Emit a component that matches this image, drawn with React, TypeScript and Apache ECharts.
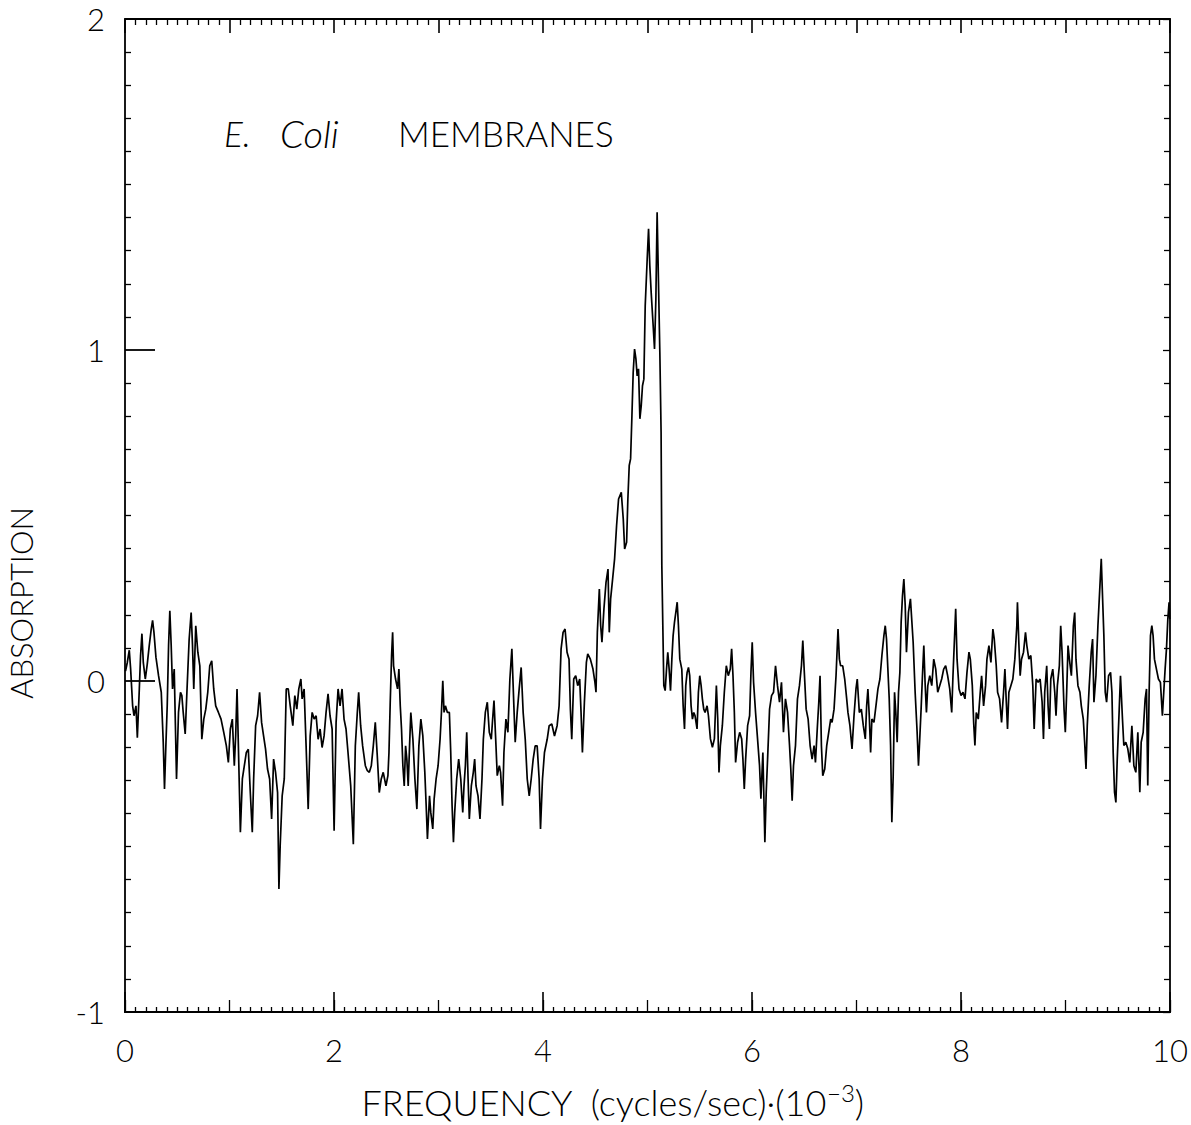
import React, { useEffect, useRef } from 'react';
import * as echarts from 'echarts';

// Frequency (cycles/sec · 10^-3) and absorption readings, in segments
const freqA = [0.005,0.022,0.041,0.054,0.073,0.086,0.105,0.118,0.137,0.149,
0.162,0.175,0.194,0.213,0.232,0.251,0.264,0.277,0.296,0.321,
0.347,0.366,0.378,0.391,0.404,0.417,0.429,0.442,0.455,0.471,
0.493,0.512,0.531,0.544,0.557,0.576,0.595,0.614,0.633,0.646,
0.658,0.677,0.697,0.716,0.735,0.754,0.773,0.792,0.811,0.830,
0.849,0.868,0.894,0.919,0.945,0.970,0.989,1.008,1.027,1.046,
1.059,1.072,1.085,1.104,1.123,1.142,1.161,1.180,1.199,1.218,
1.231,1.250,1.269,1.288,1.307,1.326,1.345,1.364,1.384,1.403,
1.422,1.441,1.460,1.473,1.485,1.504,1.524,1.543,1.562,1.581,
1.606,1.625,1.644,1.663,1.683,1.695,1.714,1.733,1.753,1.772,
1.791,1.810,1.829,1.848,1.867,1.886,1.905,1.924,1.943,1.962,
1.982,2.001,2.020,2.039,2.058,2.077,2.096,2.115,2.134,2.160,
2.185,2.204,2.223,2.236,2.255,2.274,2.300,2.319,2.338,2.357,
2.376,2.395,2.414,2.433,2.452,2.471,2.497,2.516];
const absA = [0.03,0.056,0.093,0.036,-0.075,-0.105,-0.075,-0.171,-0.024,0.077,
0.143,0.056,0.006,0.051,0.107,0.157,0.183,0.147,0.072,0.016,
-0.034,-0.186,-0.326,-0.196,-0.075,0.107,0.212,0.107,-0.024,0.036,
-0.296,-0.095,-0.034,-0.044,-0.095,-0.16,-0.014,0.127,0.207,0.107,
-0.024,0.167,0.087,0.046,-0.176,-0.115,-0.085,-0.034,0.046,0.061,
-0.024,-0.075,-0.095,-0.115,-0.155,-0.196,-0.246,-0.145,-0.115,-0.256,
-0.166,-0.024,-0.196,-0.457,-0.296,-0.256,-0.216,-0.206,-0.337,-0.457,
-0.296,-0.135,-0.105,-0.034,-0.125,-0.166,-0.206,-0.266,-0.296,-0.417,
-0.236,-0.276,-0.337,-0.628,-0.497,-0.347,-0.296,-0.024,-0.024,-0.075,
-0.135,-0.044,-0.085,-0.024,0.006,-0.054,-0.024,-0.196,-0.387,-0.166,
-0.095,-0.115,-0.105,-0.176,-0.145,-0.201,-0.166,-0.095,-0.039,-0.105,
-0.145,-0.452,-0.125,-0.024,-0.075,-0.024,-0.115,-0.145,-0.216,-0.317,
-0.493,-0.196,-0.095,-0.034,-0.135,-0.196,-0.256,-0.271,-0.276,-0.256,
-0.196,-0.125,-0.226,-0.337,-0.296,-0.276,-0.317,-0.286];

const freqB = [2.526,2.538,2.551,2.561,2.570,2.589,2.608,2.621,2.634,2.646,
2.659,2.672,2.685,2.697,2.710,2.723,2.735,2.755,2.774,2.793,
2.812,2.831,2.850,2.869,2.882,2.894,2.914,2.926,2.945,2.958,
2.977,2.996,3.015,3.028,3.041,3.053,3.066,3.085,3.104,3.117,
3.130,3.143,3.155,3.174,3.193,3.213,3.232,3.244,3.257,3.270,
3.283,3.295,3.314,3.333,3.346,3.359,3.378,3.397,3.416,3.429,
3.448,3.467,3.486,3.505,3.518,3.531,3.550,3.562,3.582,3.594,
3.613,3.626,3.645,3.664,3.683,3.702,3.721,3.734,3.753,3.772,
3.791,3.810,3.830,3.849,3.868,3.887,3.906,3.925,3.944,3.963,
3.976,3.995,4.014,4.040,4.059,4.084,4.110,4.135,4.154,4.173,
4.192,4.211,4.230,4.249,4.262,4.275,4.294,4.313,4.332,4.351,
4.364,4.377,4.396,4.415,4.428,4.453,4.478,4.497];
const absB = [-0.216,-0.064,0.077,0.147,0.046,0.006,-0.024,0.036,-0.075,-0.145,
-0.256,-0.317,-0.196,-0.236,-0.317,-0.196,-0.095,-0.176,-0.296,-0.387,
-0.196,-0.115,-0.166,-0.276,-0.377,-0.477,-0.347,-0.397,-0.447,-0.357,
-0.296,-0.256,-0.176,-0.095,0.001,-0.095,-0.075,-0.095,-0.095,-0.216,
-0.377,-0.487,-0.397,-0.296,-0.236,-0.296,-0.397,-0.317,-0.256,-0.155,
-0.296,-0.417,-0.317,-0.276,-0.236,-0.317,-0.347,-0.417,-0.296,-0.176,
-0.095,-0.064,-0.155,-0.176,-0.115,-0.059,-0.196,-0.286,-0.256,-0.276,
-0.377,-0.216,-0.115,-0.155,0.006,0.097,-0.075,-0.185,-0.095,-0.024,
0.041,-0.095,-0.176,-0.296,-0.347,-0.296,-0.236,-0.196,-0.196,-0.296,
-0.447,-0.296,-0.216,-0.176,-0.135,-0.13,-0.166,-0.135,-0.075,0.097,
0.147,0.157,0.087,0.066,-0.085,-0.176,0.006,0.016,-0.014,0.006,
-0.095,-0.216,-0.064,0.056,0.082,0.066,0.036,-0.004];

const freqC = [4.507,4.520,4.539,4.552,4.564,4.583,4.603,4.622,4.634,4.647,
4.666,4.685,4.704,4.723,4.749,4.768,4.781,4.800,4.812,4.825,
4.838,4.851,4.863,4.876,4.889,4.901,4.914,4.927,4.940,4.952,
4.965,4.978,4.997,5.010,5.022,5.035,5.054,5.067,5.080,5.092,
5.105,5.118,5.130,5.137];
const absC = [-0.034,0.147,0.278,0.167,0.117,0.218,0.298,0.338,0.147,0.248,
0.308,0.369,0.469,0.55,0.57,0.489,0.399,0.419,0.55,0.651,
0.671,0.802,0.933,1.003,0.973,0.922,0.943,0.792,0.832,0.892,
0.912,1.134,1.275,1.366,1.255,1.174,1.074,1.003,1.154,1.416,
1.204,0.993,0.751,0.348];

const freqD = [5.156,5.169,5.182,5.194,5.207,5.220,5.233,5.245,5.258,5.271,
5.284,5.296,5.309,5.328,5.341,5.354,5.366,5.379,5.392,5.404,
5.417,5.430,5.443,5.455,5.474,5.487,5.500,5.513,5.525,5.538,
5.551,5.570,5.583,5.602,5.621,5.640,5.659,5.672,5.684,5.697,
5.716,5.735,5.754,5.773,5.792,5.805,5.818,5.831,5.843,5.862,
5.882,5.901,5.913,5.926,5.939,5.958,5.977,5.990,6.002,6.015,
6.034,6.053,6.072,6.085,6.104,6.123,6.136,6.149,6.168,6.187,
6.206,6.225,6.244,6.263,6.282,6.301,6.320,6.340,6.359,6.371,
6.384,6.397,6.416,6.435,6.454,6.473,6.486,6.499,6.518,6.537,
6.556,6.575,6.594,6.607,6.626,6.639,6.651,6.664,6.677,6.696,
6.715,6.734,6.753,6.766,6.785,6.804,6.823,6.836,6.848,6.868,
6.887,6.906,6.918,6.937,6.957,6.976,6.995,7.007,7.027,7.046,
7.065,7.084,7.097,7.109,7.122,7.135,7.147,7.167,7.186,7.205,
7.224,7.243,7.262,7.275,7.287,7.300,7.313,7.326,7.338,7.351,
7.364,7.376,7.389,7.402,7.415,7.427,7.440,7.453,7.466,7.478,
7.497,7.516];
const absD = [-0.014,-0.029,0.036,0.087,0.036,-0.029,0.066,0.137,0.177,0.207,
0.238,0.167,0.066,0.036,-0.075,-0.145,-0.014,0.026,0.041,0.016,
-0.075,-0.115,-0.095,-0.105,-0.145,-0.034,0.016,-0.014,-0.054,-0.085,
-0.095,-0.075,-0.105,-0.175,-0.2,-0.175,-0.014,-0.115,-0.276,-0.195,
-0.135,-0.034,0.046,0.016,0.036,0.097,0.016,-0.095,-0.246,-0.185,
-0.155,-0.175,-0.236,-0.326,-0.236,-0.135,-0.105,0.026,0.117,-0.004,
-0.095,-0.175,-0.256,-0.356,-0.216,-0.487,-0.336,-0.236,-0.085,-0.044,
-0.034,0.046,-0.014,-0.064,-0.004,-0.155,-0.054,-0.095,-0.195,-0.266,
-0.362,-0.256,-0.195,-0.054,-0.014,0.046,0.122,0.036,-0.085,-0.115,
-0.195,-0.236,-0.195,-0.246,-0.135,-0.064,0.016,-0.195,-0.286,-0.266,
-0.195,-0.155,-0.115,-0.125,-0.085,0.016,0.157,0.066,0.046,0.046,
0.006,-0.054,-0.095,-0.135,-0.205,-0.105,-0.024,0.006,-0.095,-0.085,
-0.135,-0.175,-0.075,-0.024,-0.105,-0.216,-0.115,-0.125,-0.075,-0.024,
0.006,0.077,0.137,0.167,0.127,0.036,-0.054,-0.195,-0.427,-0.286,
-0.034,-0.095,-0.185,-0.034,0.026,0.177,0.258,0.308,0.228,0.087,
0.207,0.248];

const freqE = [7.542,7.561,7.580,7.593,7.605,7.618,7.631,7.644,7.656,7.669,
7.682,7.701,7.720,7.739,7.758,7.777,7.796,7.815,7.834,7.853,
7.872,7.892,7.911,7.923,7.936,7.949,7.962,7.981,8.000,8.019,
8.038,8.057,8.076,8.089,8.108,8.121,8.133,8.146,8.165,8.184,
8.197,8.216,8.235,8.248,8.267,8.286,8.305,8.318,8.337,8.350,
8.369,8.388,8.407,8.420,8.432,8.445,8.458,8.477,8.496,8.515,
8.534,8.540,8.553,8.566,8.579,8.598,8.617,8.630,8.649,8.668,
8.687,8.700,8.719,8.738,8.757,8.776,8.789,8.801,8.820,8.833,
8.846,8.859,8.878,8.897,8.909,8.922,8.941,8.954,8.967,8.986,
8.998,9.011,9.024,9.037,9.056,9.075,9.088,9.100,9.119,9.138,
9.151,9.170,9.183,9.196,9.208,9.227,9.246,9.259,9.272,9.291,
9.310,9.323,9.342,9.355,9.367,9.380,9.393,9.412,9.431,9.444,
9.456,9.469,9.482,9.495,9.514,9.526,9.545,9.558,9.577,9.596,
9.615,9.635,9.654,9.673,9.692,9.711,9.724,9.743,9.762,9.775,
9.787,9.800,9.813,9.826,9.838,9.851,9.870,9.889,9.908,9.927,
9.940,9.953,9.966,9.979,9.991,9.998];
const absE = [0.117,-0.034,-0.155,-0.256,-0.175,-0.085,0.016,0.107,-0.004,-0.095,
-0.014,0.016,-0.014,0.066,0.036,-0.034,-0.014,0.006,0.036,0.046,
0.016,-0.024,-0.095,0.016,0.117,0.218,0.066,-0.024,-0.044,-0.034,
-0.054,0.026,0.087,0.066,-0.014,-0.125,-0.195,-0.095,-0.115,-0.034,
0.016,-0.075,-0.014,0.066,0.107,0.056,0.157,0.127,0.046,-0.034,
-0.054,-0.125,-0.034,0.036,-0.054,-0.145,-0.034,-0.014,0.006,0.066,
0.167,0.238,0.117,0.016,0.066,0.087,0.147,0.107,0.066,0.077,
-0.014,-0.145,0.006,-0.004,0.006,-0.064,-0.175,-0.034,0.046,-0.075,
-0.145,0.006,0.036,-0.034,-0.105,-0.014,0.046,0.167,0.087,-0.085,
-0.155,-0.034,0.107,0.066,0.016,0.167,0.207,0.066,-0.014,-0.034,
-0.075,-0.115,-0.185,-0.266,-0.135,-0.014,0.087,0.127,-0.064,0.016,
0.167,0.248,0.369,0.248,0.137,-0.034,-0.064,0.016,0.026,-0.034,
-0.216,-0.336,-0.367,-0.236,-0.085,0.016,-0.115,-0.195,-0.185,-0.205,
-0.246,-0.135,-0.256,-0.276,-0.155,-0.336,-0.185,-0.155,-0.054,-0.024,
-0.316,-0.034,0.137,0.167,0.137,0.066,0.036,0.006,-0.004,-0.105,
-0.034,0.036,0.097,0.187,0.238,0.187];

const xMin = 0, xMax = 10;
const yMin = -1, yMax = 2;

export default function App() {
  const ref = useRef<HTMLDivElement>(null);
  useEffect(() => {
    if (!ref.current) return;
    const chart = echarts.init(ref.current, null, { renderer: 'svg' });
    const zip = (f: number[], a: number[]) => {
      const n = Math.min(f.length, a.length);
      const out: number[][] = [];
      for (let i = 0; i < n; i++) out.push([f[i], a[i]]);
      return out;
    };
    const data = [
      ...zip(freqA, absA), ...zip(freqB, absB), ...zip(freqC, absC),
      ...zip(freqD, absD), ...zip(freqE, absE),
    ];
    const font = "Lato, 'Liberation Sans', 'DejaVu Sans', sans-serif";
    const lineSt = { color: '#000', width: 1.8 };
    const tickSt = { color: '#000', width: 1.3 };
    const noSplit = { show: false };
    const axLine = { show: true, onZero: false, lineStyle: lineSt };
    chart.setOption({
      animation: false,
      backgroundColor: '#fff',
      grid: { left: 125, right: 18, top: 19, bottom: 112, containLabel: false },
      xAxis: [
        {
          type: 'value', min: xMin, max: xMax, interval: 2, position: 'bottom',
          axisLine: axLine,
          axisTick: { show: true, inside: true, length: 20, lineStyle: { color: '#000', width: 1.6 } },
          axisLabel: { margin: 22, fontSize: 31, color: '#000', fontFamily: font, fontWeight: 300 },
          splitLine: noSplit,
          name: '{n|FREQUENCY  (cycles/sec)·(10}{s|−3}{n|)}',
          nameLocation: 'middle', nameGap: 68,
          nameTextStyle: {
            color: '#000', fontFamily: font,
            padding: [0, 70, 0, 0],
            rich: {
              n: { fontSize: 36, fontFamily: font, fontWeight: 300, color: '#000', lineHeight: 40, verticalAlign: 'bottom' },
              s: { fontSize: 24, fontFamily: font, fontWeight: 300, color: '#000', lineHeight: 28, verticalAlign: 'top' },
            },
          },
        },
        {
          type: 'value', min: xMin, max: xMax, interval: 1, position: 'bottom',
          axisLine: axLine,
          axisTick: { show: true, inside: true, length: 12, lineStyle: tickSt },
          minorTick: { show: true, splitNumber: 10, length: 5, lineStyle: tickSt },
          axisLabel: { show: false }, splitLine: noSplit,
        },
        {
          type: 'value', min: xMin, max: xMax, interval: 1, position: 'top',
          axisLine: axLine,
          axisTick: { show: true, inside: true, length: 14, lineStyle: { color: '#000', width: 1.6 } },
          minorTick: { show: true, splitNumber: 10, length: 6, lineStyle: tickSt },
          axisLabel: { show: false }, splitLine: noSplit,
        },
      ],
      yAxis: [
        {
          type: 'value', min: yMin, max: yMax, interval: 1, position: 'left',
          axisLine: axLine,
          axisTick: { show: true, inside: true, length: 30, lineStyle: { color: '#000', width: 1.8 } },
          minorTick: { show: true, splitNumber: 10, length: 6, lineStyle: tickSt },
          axisLabel: { margin: 20, fontSize: 31, color: '#000', fontFamily: font, fontWeight: 300 },
          splitLine: noSplit,
        },
        {
          type: 'value', min: yMin, max: yMax, interval: 1, position: 'right',
          axisLine: axLine,
          axisTick: { show: true, inside: true, length: 7, lineStyle: tickSt },
          minorTick: { show: true, splitNumber: 10, length: 6, lineStyle: tickSt },
          axisLabel: { show: false }, splitLine: noSplit,
        },
      ],
      series: [
        {
          type: 'line', xAxisIndex: 0, yAxisIndex: 0, data,
          showSymbol: false, symbol: 'none', clip: true,
          lineStyle: { color: '#000', width: 1.7 },
        },
      ],
      graphic: [
        {
          type: 'text', x: 224, y: 133,
          style: {
            text: 'E.', fontStyle: 'italic', fontSize: 35, fontFamily: font, fontWeight: 300,
            fill: '#000', verticalAlign: 'middle',
          },
        },
        {
          type: 'text', x: 280, y: 133,
          style: {
            text: 'Coli', fontStyle: 'italic', fontSize: 38, fontFamily: font, fontWeight: 300,
            fill: '#000', verticalAlign: 'middle',
          },
        },
        {
          type: 'text', x: 398, y: 133,
          style: {
            text: 'MEMBRANES', fontSize: 35, fontFamily: font, fontWeight: 300,
            fill: '#000', verticalAlign: 'middle',
          },
        },
        {
          type: 'text', x: 21, y: 603, rotation: Math.PI / 2,
          style: {
            text: 'ABSORPTION', fontSize: 31, fontFamily: font, fontWeight: 300,
            fill: '#000', align: 'center', verticalAlign: 'middle',
          },
        },
      ],
    });
    return () => chart.dispose();
  }, []);
  return <div ref={ref} style={{ position: 'absolute', left: 0, top: 0, width: 1191, height: 1125 }} />;
}
